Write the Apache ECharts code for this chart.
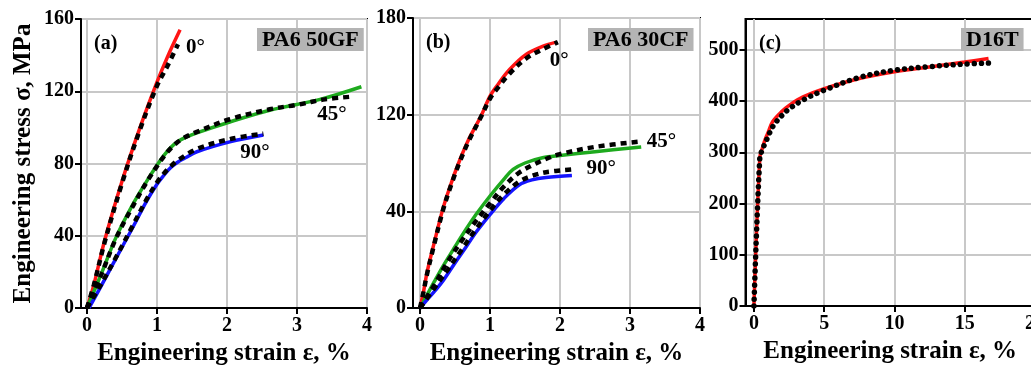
<!DOCTYPE html>
<html>
<head>
<meta charset="utf-8">
<script src="https://cdn.jsdelivr.net/npm/echarts@6/dist/echarts.min.js"></script>
<style>html,body{margin:0;padding:0;background:#fff;}#c{width:1031px;height:365px;}</style>
</head>
<body>
<div id="c"></div>
<script>
// ---- tick values / labels ----
const xTicksAB = [0, 1, 2, 3, 4];
const yTicksA = [0, 40, 80, 120, 160];
const yTicksB = [0, 60, 120, 180];
const yTickLabelsB = ['0', '40', '120', '180'];
const xTicksC = [0, 5, 10, 15, 20];
const yTicksC = [0, 100, 200, 300, 400, 500];

// ---- panel (a) PA6 50GF : [strain %, stress MPa] ----
const aModel0 = [[0,0],[0.1,13],[0.25,37],[0.5,70],[0.75,99],[1.0,125],[1.15,139],[1.33,154]];
const aExp0   = [[0,0],[0.1,13],[0.25,36],[0.5,69],[0.75,98],[1.0,123],[1.15,134],[1.3,146]];
const aModel45 = [[0,0],[0.19,17.5],[0.42,39.5],[0.65,57],[0.85,70],[1.0,79],[1.1,84.5],[1.2,89],[1.3,92.2],[1.4,94.3],[1.57,97],[2.04,103],[2.61,109.5],[3.33,115.5],[3.92,122.5]];
const aExp45   = [[0,0],[0.2,18],[0.42,39],[0.65,56],[0.85,69.5],[1.0,78.5],[1.1,84],[1.2,88.5],[1.3,92],[1.4,94.5],[1.57,97.5],[2.04,104.5],[2.61,110],[3.0,112.5],[3.4,115.5],[3.78,117]];
const aModel90 = [[0.03,0],[0.2,12],[0.38,25],[0.66,45],[0.85,59],[1.0,68.5],[1.1,73.5],[1.19,77.5],[1.3,80.8],[1.4,83],[1.57,86.5],[2.04,92],[2.52,95.8]];
const aExp90   = [[0,0],[0.2,13],[0.4,27],[0.66,46],[0.85,60],[1.0,69.5],[1.1,74.5],[1.2,78.5],[1.3,81.8],[1.57,88],[2.04,93.5],[2.52,96.5]];
const aLabels = [[1.55,144,'0°'],[3.5,107,'45°'],[2.4,86,'90°']];

// ---- panel (b) PA6 30CF ----
const bModel0 = [[0,0],[0.05,10],[0.1,22],[0.2,40],[0.33,62],[0.45,78],[0.57,92],[0.7,105],[0.87,119],[1.0,131.5],[1.1,138],[1.28,148],[1.52,157.5],[1.75,162.4],[1.95,165]];
const bExp0   = [[0,0],[0.05,10],[0.1,21],[0.2,39],[0.33,61],[0.45,77],[0.57,91],[0.7,104],[0.87,118.5],[1.0,130],[1.1,136],[1.28,145.5],[1.52,155],[1.75,160.5],[1.97,165]];
const bModel45 = [[0,0],[0.1,8],[0.2,16],[0.33,26],[0.5,38],[0.66,49],[0.8,58],[1.0,69.5],[1.2,80],[1.33,86],[1.5,90],[1.75,93.3],[2.0,94.7],[2.5,97],[3.16,100]];
const bExp45   = [[0,0],[0.2,14],[0.4,29],[0.6,42],[0.8,54],[1.0,65],[1.2,75.5],[1.4,83.5],[1.6,88.5],[1.8,92.5],[2.0,95.5],[2.5,100],[3.14,103.3]];
const bModel90 = [[0,0],[0.1,5],[0.2,10],[0.33,17],[0.5,28],[0.66,38],[0.8,47],[1.0,58],[1.2,68],[1.42,76.5],[1.6,79.5],[1.8,81],[2.17,82.2]];
const bExp90   = [[0,0],[0.2,12],[0.4,24],[0.6,36.5],[0.8,49],[1.0,60.5],[1.2,70.5],[1.42,78.5],[1.6,82],[1.8,84.3],[2.16,86]];
const bLabels = [[1.99,153.5,'0°'],[3.45,103.5,'45°'],[2.59,86.5,'90°']];

// ---- panel (c) D16T ----
const cModel = [[0,0],[0.42,290],[0.6,308],[0.8,325],[1.0,338],[1.34,360],[2.0,380],[2.53,392],[3.5,408],[5,424],[7.5,444],[10,457],[12.5,466.5],[15,476],[16.7,483]];
const cExp   = [[0,0],[0.42,290],[0.6,305],[0.8,318],[1.0,330],[1.34,350],[2.0,372],[2.53,385],[3.5,402],[5,421],[7.5,446],[10,460],[12.5,467],[15,472],[16.7,474]];

// ---- texts ----
const xName = 'Engineering strain ε, %';
const yName = 'Engineering stress σ, MPa';
const panelTags = ['(a)', '(b)', '(c)'];
const materials = ['PA6 50GF', 'PA6 30CF', 'D16T'];

const FONT = '"Liberation Serif", "DejaVu Serif", serif';
const RED = '#ff1414', GREEN = '#1eaa1e', BLUE = '#1414ff';

function xAxisCfg(idx, min, max, ticks) {
  return {
    type: 'value', gridIndex: idx, min: min, max: max,
    name: xName, nameLocation: 'middle', nameGap: 29,
    nameTextStyle: { fontFamily: FONT, fontWeight: 'bold', fontSize: 25, color: '#000' },
    axisLine: { show: true, onZero: false, lineStyle: { color: '#000', width: 2 } },
    axisTick: { show: true, customValues: ticks, length: 6, lineStyle: { color: '#000', width: 2 } },
    axisLabel: { customValues: ticks, margin: 8, fontFamily: FONT, fontWeight: 'bold', fontSize: 20, color: '#000' },
    splitLine: { show: true, lineStyle: { color: '#c8c8c8', width: 2 } }
  };
}
function yAxisCfg(idx, min, max, ticks, fmt, withName) {
  const o = {
    type: 'value', gridIndex: idx, min: min, max: max,
    axisLine: { show: true, onZero: false, lineStyle: { color: '#000', width: 2 } },
    axisTick: { show: true, customValues: ticks, length: 6, lineStyle: { color: '#000', width: 2 } },
    axisLabel: { customValues: ticks, margin: 7, fontFamily: FONT, fontWeight: 'bold', fontSize: 20, color: '#000', formatter: fmt },
    splitLine: { show: true, lineStyle: { color: '#c8c8c8', width: 2 } }
  };
  if (withName) {
    o.name = yName; o.nameLocation = 'middle'; o.nameGap = 45;
    o.nameTextStyle = { fontFamily: FONT, fontWeight: 'bold', fontSize: 25, color: '#000' };
  }
  return o;
}
function solid(idx, data, color) {
  return { type: 'line', xAxisIndex: idx, yAxisIndex: idx, data: data, showSymbol: false, symbol: 'none',
    smooth: 0.35, lineStyle: { color: color, width: 3.5 }, z: 2, silent: true };
}
function dashed(idx, data) {
  return { type: 'line', xAxisIndex: idx, yAxisIndex: idx, data: data, showSymbol: false, symbol: 'none',
    smooth: 0.35, lineStyle: { color: '#000', width: 4.5, type: [6, 5], cap: 'butt' }, z: 3, silent: true };
}
function dotted(idx, data) {
  return { type: 'line', xAxisIndex: idx, yAxisIndex: idx, data: data, showSymbol: false, symbol: 'none',
    smooth: 0.35, lineStyle: { color: '#000', width: 5.5, type: [0.01, 7], cap: 'round' }, z: 3, silent: true };
}
function labels(idx, data) {
  return { type: 'scatter', xAxisIndex: idx, yAxisIndex: idx, data: data, symbolSize: 0, z: 10, silent: true,
    itemStyle: { opacity: 1, color: '#000' },
    label: { show: true, position: 'inside', formatter: p => p.value[2], opacity: 1,
      fontFamily: FONT, fontWeight: 'bold', fontSize: 21, color: '#000' } };
}
function tagTitle(text, left, top) {
  return { text: text, left: left, top: top, padding: 0,
    textStyle: { fontFamily: FONT, fontWeight: 'bold', fontSize: 20, color: '#000' } };
}
function matTitle(text, left, top) {
  return { text: text, left: left, top: top, padding: [1, 5, 0, 5], backgroundColor: '#b4b4b4',
    textStyle: { fontFamily: FONT, fontWeight: 'bold', fontSize: 22, color: '#000', lineHeight: 22 } };
}

const gridStyle = { show: true, borderColor: '#000', borderWidth: 2, backgroundColor: 'transparent', outerBoundsMode: 'none', containLabel: false };
const option = {
  backgroundColor: '#fff',
  animation: false,
  title: [
    tagTitle(panelTags[0], 94, 34), matTitle(materials[0], 257, 28),
    tagTitle(panelTags[1], 426, 33), matTitle(materials[1], 588, 28),
    tagTitle(panelTags[2], 759, 34), matTitle(materials[2], 961, 28)
  ],
  grid: [
    Object.assign({ left: 81, top: 19, width: 286, height: 289 }, gridStyle),
    Object.assign({ left: 413, top: 18, width: 287, height: 290 }, gridStyle),
    Object.assign({ left: 745.5, top: 19, width: 289.4, height: 287 }, gridStyle)
  ],
  xAxis: [
    xAxisCfg(0, -0.085, 4, xTicksAB),
    xAxisCfg(1, -0.1, 4, xTicksAB),
    xAxisCfg(2, -0.6, 20, xTicksC)
  ],
  yAxis: [
    yAxisCfg(0, 0, 160, yTicksA, v => String(v), true),
    yAxisCfg(1, 0, 180, yTicksB, v => yTickLabelsB[yTicksB.indexOf(v)] ?? '', false),
    yAxisCfg(2, 0, 560, yTicksC, v => String(v), false)
  ],
  series: [
    solid(0, aModel0, RED), solid(0, aModel45, GREEN), solid(0, aModel90, BLUE),
    dashed(0, aExp0), dashed(0, aExp45), dashed(0, aExp90), labels(0, aLabels),
    solid(1, bModel0, RED), solid(1, bModel45, GREEN), solid(1, bModel90, BLUE),
    dashed(1, bExp0), dashed(1, bExp45), dashed(1, bExp90), labels(1, bLabels),
    solid(2, cModel, RED), dotted(2, cExp)
  ]
};
const chart = echarts.init(document.getElementById('c'), null, { renderer: 'canvas' });
chart.setOption(option);
</script>
</body>
</html>
